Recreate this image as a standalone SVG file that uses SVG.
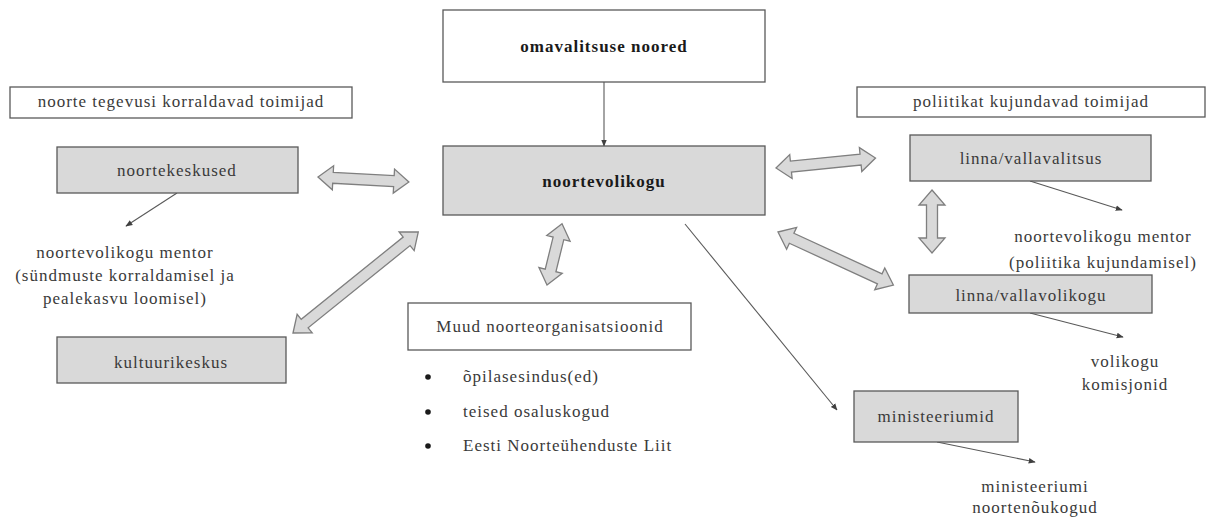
<svg xmlns="http://www.w3.org/2000/svg" width="1212" height="519" viewBox="0 0 1212 519">
<style>
.box{stroke:#595959;stroke-width:1.3}
.w{fill:#ffffff}
.g{fill:#d9d9d9}
text{font-family:"Liberation Serif","Times New Roman",serif;font-size:17px;letter-spacing:1px;fill:#3a3a3a}
.c{text-anchor:middle}
.b{font-weight:bold;fill:#1a1a1a}
.blk{fill:#d9d9d9;stroke:#7f7f7f;stroke-width:1.3;stroke-linejoin:miter}
.ln{stroke:#595959;stroke-width:1.1;fill:none;marker-end:url(#ah)}
</style>
<defs>
<marker id="ah" viewBox="0 0 10 10" refX="9" refY="5" markerWidth="7" markerHeight="7" markerUnits="userSpaceOnUse" orient="auto">
<path d="M0,1 L10,5 L0,9 Z" fill="#404040"/>
</marker>
</defs>
<rect width="1212" height="519" fill="#ffffff"/>

<g id="connectors">
<line class="ln" x1="604" y1="82" x2="604" y2="146"/>
<line class="ln" x1="177" y1="193" x2="126" y2="226"/>
<line class="ln" x1="685" y1="224" x2="837" y2="410"/>
<line class="ln" x1="1030" y1="181" x2="1122" y2="210"/>
<line class="ln" x1="1030" y1="313" x2="1123" y2="337"/>
<line class="ln" x1="937" y1="442" x2="1035" y2="462"/>
<path class="blk" transform="translate(318,177) rotate(3.1)" d="M0,0 L15,-12 L15,-5.5 L76,-5.5 L76,-12 L91,0 L76,12 L76,5.5 L15,5.5 L15,12 Z"/>
<path class="blk" transform="translate(293,333) rotate(-38.9)" d="M0,0 L15,-12 L15,-5.5 L146,-5.5 L146,-12 L161,0 L146,12 L146,5.5 L15,5.5 L15,12 Z"/>
<path class="blk" transform="translate(547,285) rotate(-76.2)" d="M0,0 L15,-12 L15,-5.5 L48,-5.5 L48,-12 L63,0 L48,12 L48,5.5 L15,5.5 L15,12 Z"/>
<path class="blk" transform="translate(776,168) rotate(-5.7)" d="M0,0 L15,-12 L15,-5.5 L85,-5.5 L85,-12 L100,0 L85,12 L85,5.5 L15,5.5 L15,12 Z"/>
<path class="blk" transform="translate(932,190) rotate(90)" d="M0,0 L15,-13 L15,-5.5 L48,-5.5 L48,-13 L63,0 L48,13 L48,5.5 L15,5.5 L15,13 Z"/>
<path class="blk" transform="translate(778,232) rotate(24.7)" d="M0,0 L15,-12 L15,-5.5 L112,-5.5 L112,-12 L127,0 L112,12 L112,5.5 L15,5.5 L15,12 Z"/>
</g>

<g id="omavalitsuse-noored">
<rect class="box w" x="443" y="10" width="322" height="72"/>
<text class="c b" x="604" y="52">omavalitsuse noored</text>
</g>
<g id="noortevolikogu">
<rect class="box g" x="443" y="146" width="322" height="69"/>
<text class="c b" x="604" y="187">noortevolikogu</text>
</g>
<g id="noorte-tegevusi">
<rect class="box w" x="10" y="87" width="342" height="31"/>
<text class="c" x="181" y="107">noorte tegevusi korraldavad toimijad</text>
</g>
<g id="noortekeskused">
<rect class="box g" x="57" y="147" width="241" height="46"/>
<text class="c" x="177" y="176">noortekeskused</text>
</g>
<g id="mentor-left">
<text class="c" x="125" y="258">noortevolikogu mentor</text>
<text class="c" x="125" y="281">(sündmuste korraldamisel ja</text>
<text class="c" x="125" y="304">pealekasvu loomisel)</text>
</g>
<g id="kultuurikeskus">
<rect class="box g" x="57" y="337" width="229" height="46"/>
<text class="c" x="171" y="368">kultuurikeskus</text>
</g>
<g id="muud">
<rect class="box w" x="408" y="303" width="283" height="47"/>
<text class="c" x="550" y="332">Muud noorteorganisatsioonid</text>
<circle cx="428" cy="377" r="2.8" fill="#1a1a1a"/>
<circle cx="428" cy="412" r="2.8" fill="#1a1a1a"/>
<circle cx="428" cy="446" r="2.8" fill="#1a1a1a"/>
<text x="463" y="382">õpilasesindus(ed)</text>
<text x="463" y="417">teised osaluskogud</text>
<text x="463" y="451">Eesti Noorteühenduste Liit</text>
</g>
<g id="poliitikat">
<rect class="box w" x="857" y="87" width="348" height="30"/>
<text class="c" x="1031" y="107">poliitikat kujundavad toimijad</text>
</g>
<g id="vallavalitsus">
<rect class="box g" x="910" y="135" width="241" height="46"/>
<text class="c" x="1031" y="164">linna/vallavalitsus</text>
</g>
<g id="mentor-right">
<text class="c" x="1103" y="242">noortevolikogu mentor</text>
<text class="c" x="1103" y="268">(poliitika kujundamisel)</text>
</g>
<g id="vallavolikogu">
<rect class="box g" x="909" y="275" width="243" height="38"/>
<text class="c" x="1031" y="301">linna/vallavolikogu</text>
</g>
<g id="komisjonid">
<text class="c" x="1125" y="367">volikogu</text>
<text class="c" x="1125" y="390">komisjonid</text>
</g>
<g id="ministeeriumid">
<rect class="box g" x="854" y="391" width="164" height="51"/>
<text class="c" x="936" y="422">ministeeriumid</text>
</g>
<g id="noortenoukogud">
<text class="c" x="1035" y="492">ministeeriumi</text>
<text class="c" x="1035" y="513">noortenõukogud</text>
</g>
</svg>
